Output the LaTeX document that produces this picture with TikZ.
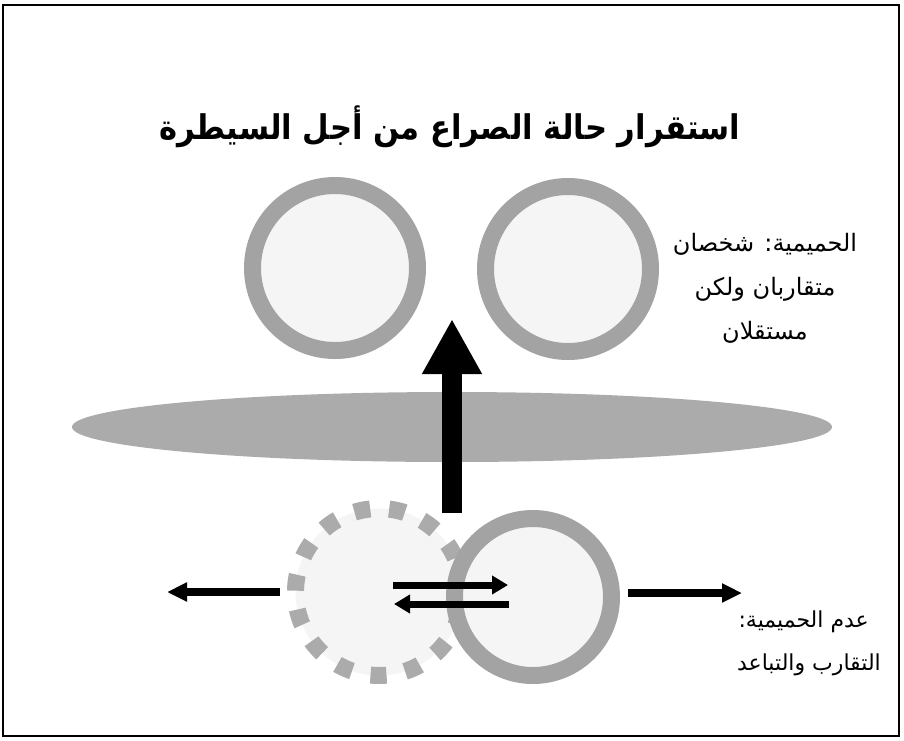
\documentclass[tikz,border=0pt]{standalone}
\usepackage{fontspec}
\usetikzlibrary{shapes.geometric,arrows.meta}
\newfontfamily\arabicfont[Script=Arabic]{DejaVu Sans}
\TeXXeTstate=1
\definecolor{ringgray}{gray}{0.64}
\definecolor{ellgray}{gray}{0.67}
\definecolor{innergray}{gray}{0.96}
\tikzset{
  ring/.style={circle,draw=ringgray,line width=17pt,fill=innergray,inner sep=0pt,outer sep=0pt},
  dashring/.style={ring,draw=ellgray,dash pattern=on 16pt off 19pt},
  bigarrow/.style={line width=20pt,-{Triangle[length=55pt,width=56pt]}},
  smallarrow/.style={line width=7pt,-{Triangle[length=16pt,width=18pt]}},
  sidearrow/.style={line width=8pt,-{Triangle[length=20pt,width=18pt]}},
  artext/.style={font=\arabicfont\fontsize{24}{44}\selectfont,align=center,inner sep=0pt},
  lowtext/.style={font=\arabicfont\fontsize{22}{30}\selectfont,inner sep=0pt},
  titletext/.style={font=\arabicfont\bfseries\fontsize{34}{40}\selectfont,inner sep=0pt}
}
\begin{document}
\begin{tikzpicture}[x=1pt,y=-1pt]
\useasboundingbox (0,0) rectangle (904,740);
\fill[white] (0,0) rectangle (904,740);
\draw[line width=1.6pt] (3,5) rectangle (899,736);
% title
\node[titletext] (title) at (450,127) {\scalebox{0.9}[1]{\beginR استقرار حالة الصراع من أجل السيطرة\endR}};
% top circles
\node[ring,minimum size=165pt] (c1) at (335,268) {};
\node[ring,minimum size=165pt] (c2) at (568,269) {};
% ellipse
\node[ellipse,fill=ellgray,minimum width=760pt,minimum height=70pt,inner sep=0pt] (ell) at (452,427) {};
% bottom circles
\node[dashring,minimum size=167pt] (c3) at (379,592) {};
\node[ring,minimum size=157pt] (c4) at (533,597) {};
% big arrow
\coordinate (upS) at (452,513);
\coordinate (upT) at (452,319);
\draw[bigarrow] (upS) -- (upT);
% double arrows
\coordinate (r1s) at (393,585);
\coordinate (r1e) at (508,585);
\coordinate (l1s) at (509,604);
\coordinate (l1e) at (394,604);
\draw[smallarrow] (r1s) -- (r1e);
\draw[smallarrow] (l1s) -- (l1e);
% side arrows
\coordinate (las) at (280,592);
\coordinate (lae) at (167,592);
\coordinate (ras) at (628,593);
\coordinate (rae) at (742,593);
\draw[sidearrow] (las) -- (lae);
\draw[sidearrow] (ras) -- (rae);
% texts
\node[artext] (t1) at (765,288) {\beginR الحميمية: شخصان\endR\\\beginR متقاربان ولكن\endR\\\beginR مستقلان\endR};
\node[lowtext,anchor=east] (t2) at (869,622) {\beginR عدم الحميمية:\endR};
\node[lowtext,anchor=east] (t3) at (881,665) {\beginR التقارب والتباعد\endR};
\end{tikzpicture}
\end{document}
